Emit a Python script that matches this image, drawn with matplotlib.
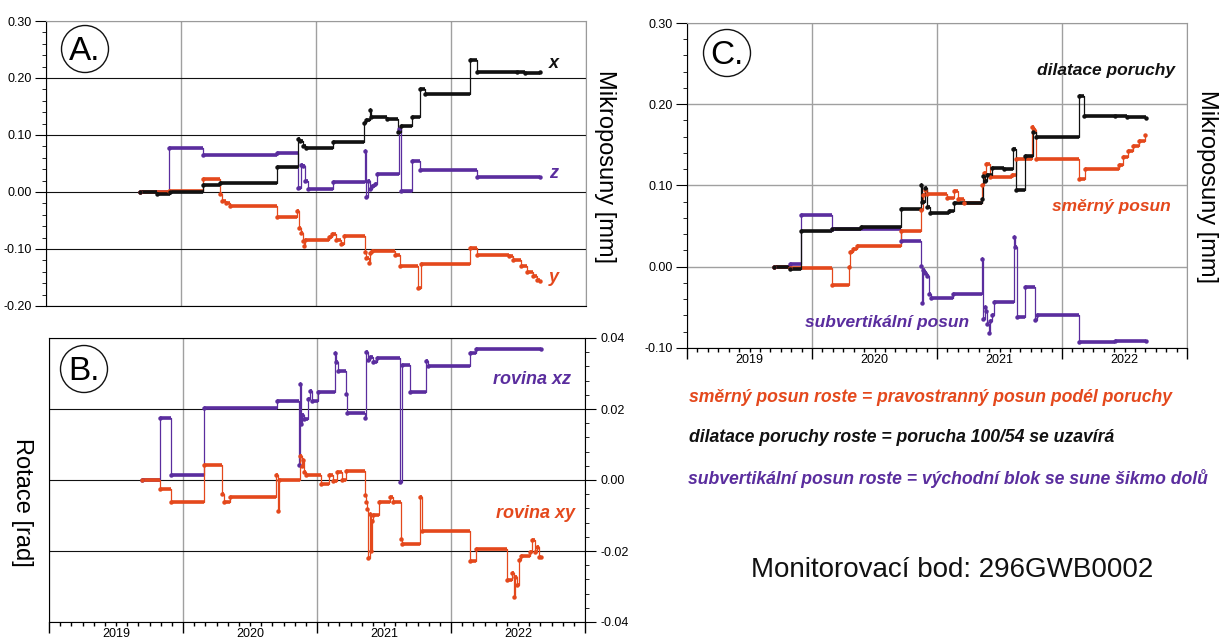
import numpy as np
import matplotlib.pyplot as plt
from matplotlib.patches import Ellipse
from matplotlib.ticker import FixedLocator, FuncFormatter, MultipleLocator

plt.rcParams['font.family'] = ['Liberation Sans', 'DejaVu Sans']
plt.rcParams['axes.unicode_minus'] = False

W, H = 1220, 642
ORANGE = '#e4481c'
PURPLE = '#5a2d9e'
BLACK = '#111111'

YEARS = [2019, 2020, 2021, 2022]

# --- A. mikroposuny x, y, z [mm] (time in decimal years)
a_x_t = [2019.695, 2019.823, 2019.916, 2020.163, 2020.291, 2020.708, 2020.867, 2020.881, 2020.901,
         2020.929, 2021.128, 2021.355, 2021.374, 2021.397, 2021.411, 2021.525, 2021.610, 2021.633,
         2021.709, 2021.774, 2021.809, 2022.143, 2022.191, 2022.489, 2022.546, 2022.660]
a_x_v = [0.0, -0.0035, 0.0, 0.012, 0.015, 0.043, 0.093, 0.089, 0.081,
         0.078, 0.087, 0.121, 0.127, 0.143, 0.131, 0.128, 0.105, 0.116,
         0.131, 0.180, 0.172, 0.232, 0.211, 0.211, 0.209, 0.210]

a_y_t = [2019.695, 2019.908, 2020.163, 2020.291, 2020.305, 2020.333, 2020.362, 2020.708, 2020.858,
         2020.872, 2020.887, 2020.901, 2020.909, 2020.921, 2021.099, 2021.122, 2021.150, 2021.184,
         2021.204, 2021.360, 2021.374, 2021.389, 2021.403, 2021.417, 2021.582, 2021.624, 2021.752,
         2021.780, 2022.143, 2022.191, 2022.433, 2022.461, 2022.518, 2022.560, 2022.609, 2022.640,
         2022.660]
a_y_v = [0.0, 0.002, 0.023, -0.003, -0.016, -0.020, -0.025, -0.043, -0.034,
         -0.063, -0.072, -0.086, -0.094, -0.085, -0.079, -0.074, -0.085, -0.091,
         -0.077, -0.105, -0.116, -0.124, -0.107, -0.103, -0.110, -0.130, -0.168,
         -0.126, -0.098, -0.110, -0.112, -0.120, -0.129, -0.141, -0.148, -0.155,
         -0.156]

a_z_t = [2019.695, 2019.908, 2020.163, 2020.708, 2020.867, 2020.887, 2020.906, 2020.921, 2020.943,
         2021.128, 2021.363, 2021.372, 2021.383, 2021.397, 2021.417, 2021.434, 2021.454, 2021.618,
         2021.627, 2021.709, 2021.774, 2022.191, 2022.660]
a_z_v = [0.0, 0.078, 0.065, 0.068, 0.007, 0.048, 0.045, 0.020, 0.005,
         0.018, 0.072, -0.008, 0.019, 0.005, 0.010, 0.014, 0.032, 0.110,
         0.002, 0.055, 0.038, 0.027, 0.027]

# --- B. rotace [rad]
b_xz_t = [2019.693, 2019.830, 2019.907, 2020.158, 2020.705, 2020.862, 2020.870, 2020.879, 2020.890,
          2020.904, 2020.933, 2020.947, 2020.962, 2021.004, 2021.133, 2021.141, 2021.153, 2021.218,
          2021.227, 2021.355, 2021.366, 2021.381, 2021.398, 2021.418, 2021.446, 2021.617, 2021.632,
          2021.697, 2021.817, 2021.825, 2022.139, 2022.187, 2022.672]
b_xz_v = [0.0, 0.0175, 0.0015, 0.0203, 0.0222, 0.0042, 0.0271, 0.0158, 0.0182,
          0.0172, 0.0227, 0.0252, 0.0223, 0.0249, 0.0358, 0.0332, 0.0308, 0.0243,
          0.0189, 0.0175, 0.0360, 0.0337, 0.0346, 0.0332, 0.0344, -0.0007, 0.0325,
          0.0248, 0.0334, 0.0321, 0.0359, 0.0370, 0.0370]

b_xy_t = [2019.693, 2019.830, 2019.907, 2020.158, 2020.292, 2020.306, 2020.349, 2020.696, 2020.711,
          2020.719, 2020.876, 2020.885, 2020.896, 2020.904, 2020.919, 2021.033, 2021.090, 2021.118,
          2021.147, 2021.190, 2021.218, 2021.355, 2021.366, 2021.375, 2021.383, 2021.392, 2021.401,
          2021.409, 2021.418, 2021.460, 2021.546, 2021.569, 2021.626, 2021.637, 2021.766, 2021.780,
          2022.139, 2022.187, 2022.416, 2022.458, 2022.467, 2022.478, 2022.493, 2022.507, 2022.521,
          2022.587, 2022.606, 2022.629, 2022.644, 2022.658, 2022.672]
b_xy_v = [0.0, -0.0025, -0.0062, 0.0041, -0.0040, -0.0061, -0.0049, 0.0013, -0.0086,
          0.0, 0.0067, 0.0040, 0.0055, 0.0022, 0.0013, -0.0011, 0.0013, -0.0002,
          0.0022, 0.0, 0.0024, -0.0042, -0.0063, -0.0082, -0.0221, -0.0096, -0.0200,
          -0.0115, -0.0099, -0.0061, -0.0049, -0.0061, -0.0167, -0.0179, -0.0049, -0.0143,
          -0.0228, -0.0193, -0.0282, -0.0263, -0.0329, -0.0272, -0.0296, -0.0226, -0.0215,
          -0.0202, -0.0169, -0.0202, -0.0190, -0.0216, -0.0216]

# --- C. dilatace / směrný / subvertikální posun [mm]
c_dil_t = [2019.697, 2019.824, 2019.913, 2020.157, 2020.395, 2020.712, 2020.870, 2020.880, 2020.902,
           2020.918, 2020.943, 2021.092, 2021.139, 2021.361, 2021.371, 2021.384, 2021.399, 2021.441,
           2021.536, 2021.605, 2021.631, 2021.700, 2021.767, 2021.789, 2022.138, 2022.176, 2022.423,
           2022.518, 2022.670]
c_dil_v = [0.0, -0.003, 0.044, 0.047, 0.049, 0.071, 0.100, 0.080, 0.097,
           0.073, 0.066, 0.068, 0.079, 0.083, 0.112, 0.105, 0.113, 0.122,
           0.120, 0.145, 0.094, 0.136, 0.166, 0.160, 0.210, 0.186, 0.185,
           0.184, 0.183]

c_smer_t = [2019.697, 2019.824, 2020.157, 2020.293, 2020.306, 2020.331, 2020.363, 2020.712, 2020.870,
            2020.886, 2020.902, 2020.918, 2021.076, 2021.139, 2021.171, 2021.219, 2021.361, 2021.377,
            2021.393, 2021.425, 2021.599, 2021.631, 2021.758, 2021.773, 2021.789, 2022.138, 2022.185,
            2022.455, 2022.487, 2022.525, 2022.566, 2022.613, 2022.661]
c_smer_v = [0.0, -0.002, -0.022, 0.0, 0.018, 0.022, 0.025, 0.044, 0.070,
            0.088, 0.095, 0.090, 0.085, 0.093, 0.083, 0.079, 0.100, 0.115,
            0.126, 0.110, 0.113, 0.133, 0.172, 0.168, 0.132, 0.108, 0.120,
            0.125, 0.135, 0.142, 0.148, 0.155, 0.162]

c_sub_t = [2019.697, 2019.824, 2019.913, 2020.157, 2020.712, 2020.870, 2020.876, 2020.886, 2020.902,
           2020.918, 2020.933, 2020.949, 2021.124, 2021.361, 2021.371, 2021.380, 2021.393, 2021.403,
           2021.412, 2021.425, 2021.441, 2021.456, 2021.615, 2021.624, 2021.637, 2021.700, 2021.783,
           2021.796, 2022.138, 2022.423, 2022.670]
c_sub_v = [0.0, 0.003, 0.064, 0.046, 0.032, 0.001, -0.045, -0.004, -0.008,
           -0.012, -0.034, -0.038, -0.033, 0.009, -0.064, -0.050, -0.055, -0.070,
           -0.081, -0.067, -0.060, -0.043, 0.037, 0.024, -0.062, -0.025, -0.065,
           -0.060, -0.093, -0.092, -0.091]


fig = plt.figure(figsize=(W / 100, H / 100), dpi=100)


def px(x, y):
    return x / W, 1 - y / H


def ax_at(l, t, r, b):
    return fig.add_axes([l / W, 1 - b / H, (r - l) / W, (b - t) / H])


def draw_series(ax, t, v, color):
    t = np.asarray(t)
    v = np.asarray(v)
    ax.step(t, v, where='post', color=color, lw=0.9, zorder=3)
    ax.hlines(v[:-1], t[:-1], t[1:], color=color, lw=2.6, zorder=3)
    ax.plot(t, v, 'o', color=color, ms=3.2, mec='none', zorder=4)


def time_axis(ax, labels):
    ax.set_xlim(2019, 2023)
    ax.xaxis.set_major_locator(FixedLocator(YEARS + [2023]))
    ax.xaxis.set_minor_locator(FixedLocator([y + m / 12 for y in YEARS for m in range(1, 12)]))
    ax.grid(axis='x', which='major', color='#a0a0a0', lw=1)
    if labels:
        ax.tick_params(axis='x', which='major', length=8, width=1, labelbottom=False)
        ax.tick_params(axis='x', which='minor', length=3, width=1, labelsize=9, pad=1.5)
        ax.xaxis.set_minor_formatter(FuncFormatter(
            lambda x, p: str(int(x)) if abs(x - int(x) - 0.5) < 1e-6 else ''))
    else:
        ax.tick_params(axis='x', which='both', length=0, labelbottom=False)


def circle_label(x, y, base, text):
    fig.add_artist(Ellipse(px(x, y), 47 / W, 47 / H, transform=fig.transFigure,
                           fc='white', ec=BLACK, lw=1, zorder=5))
    fig.text(*px(x, base), text, fontsize=24, ha='center', va='baseline', zorder=6)


# ---------------- A
axA = ax_at(46, 21, 586, 306)
for t, v, c in [(a_z_t, a_z_v, PURPLE), (a_y_t, a_y_v, ORANGE), (a_x_t, a_x_v, BLACK)]:
    draw_series(axA, t, v, c)
axA.set_ylim(-0.2, 0.3)
axA.yaxis.set_major_locator(MultipleLocator(0.1))
axA.yaxis.set_minor_locator(MultipleLocator(0.02))
axA.yaxis.set_major_formatter(FuncFormatter(lambda v, p: f'{v:.2f}'))
axA.tick_params(axis='y', which='major', length=8, labelsize=9, pad=2)
axA.tick_params(axis='y', which='minor', length=3)
axA.grid(axis='y', which='major', color=BLACK, lw=0.8)
time_axis(axA, False)
for s in ['top', 'right']:
    axA.spines[s].set_color('#9a9a9a')

# ---------------- B
axB = ax_at(49, 338, 585, 622)
for t, v, c in [(b_xz_t, b_xz_v, PURPLE), (b_xy_t, b_xy_v, ORANGE)]:
    draw_series(axB, t, v, c)
axB.set_ylim(-0.04, 0.04)
axB.yaxis.tick_right()
axB.yaxis.set_major_locator(MultipleLocator(0.02))
axB.yaxis.set_minor_locator(MultipleLocator(0.004))
axB.yaxis.set_major_formatter(FuncFormatter(lambda v, p: f'{v:.2f}'))
axB.tick_params(axis='y', which='major', length=8, labelsize=9, pad=3)
axB.tick_params(axis='y', which='minor', length=3)
axB.grid(axis='y', which='major', color=BLACK, lw=0.8)
time_axis(axB, True)

# ---------------- C
axC = ax_at(687, 23, 1187, 348)
for t, v, c in [(c_sub_t, c_sub_v, PURPLE), (c_smer_t, c_smer_v, ORANGE), (c_dil_t, c_dil_v, BLACK)]:
    draw_series(axC, t, v, c)
axC.set_ylim(-0.1, 0.3)
axC.yaxis.set_major_locator(MultipleLocator(0.1))
axC.yaxis.set_minor_locator(MultipleLocator(0.02))
axC.yaxis.set_major_formatter(FuncFormatter(lambda v, p: f'{v:.2f}'))
axC.tick_params(axis='y', which='major', length=8, labelsize=9, pad=2)
axC.tick_params(axis='y', which='minor', length=3)
axC.grid(axis='y', which='major', color='#a0a0a0', lw=1)
time_axis(axC, True)
for s in ['top', 'right']:
    axC.spines[s].set_color('#9a9a9a')

# panel letters
circle_label(85, 49, 60, 'A.')
circle_label(84, 369, 380, 'B.')
circle_label(727, 53, 64, 'C.')

# axis titles
fig.text(*px(605, 167), 'Mikroposuny [mm]', rotation=-90, fontsize=17, ha='center', va='center')
fig.text(*px(1207, 186), 'Mikroposuny [mm]', rotation=-90, fontsize=17, ha='center', va='center')
fig.text(*px(22, 502), 'Rotace [rad]', rotation=-90, fontsize=17, ha='center', va='center')

# series names
lab = dict(fontstyle='italic', fontweight='bold', va='center')
fig.text(*px(554, 63), 'x', color=BLACK, fontsize=13, ha='center', **lab)
fig.text(*px(554, 173), 'z', color=PURPLE, fontsize=13, ha='center', **lab)
fig.text(*px(554, 277), 'y', color=ORANGE, fontsize=13, ha='center', **lab)
fig.text(*px(532, 380), 'rovina xz', color=PURPLE, fontsize=13, ha='center', **lab)
fig.text(*px(536, 513), 'rovina xy', color=ORANGE, fontsize=13, ha='center', **lab)
fig.text(*px(1175, 70), 'dilatace poruchy', color=BLACK, fontsize=12.5, ha='right', **lab)
fig.text(*px(1171, 207), 'směrný posun', color=ORANGE, fontsize=12.5, ha='right', **lab)
fig.text(*px(887, 323), 'subvertikální posun', color=PURPLE, fontsize=12.5, ha='center', **lab)

# explanations
fig.text(*px(689, 398), 'směrný posun roste = pravostranný posun podél poruchy',
         color=ORANGE, fontsize=12.7, ha='left', **lab)
fig.text(*px(689, 438), 'dilatace poruchy roste = porucha 100/54 se uzavírá',
         color=BLACK, fontsize=12.7, ha='left', **lab)
fig.text(*px(688, 478), 'subvertikální posun roste = východní blok se sune šikmo dolů',
         color=PURPLE, fontsize=12.7, ha='left', **lab)
fig.text(*px(952, 570), 'Monitorovací bod: 296GWB0002', color=BLACK, fontsize=20,
         ha='center', va='center')

fig.savefig('out.png', dpi=100)
